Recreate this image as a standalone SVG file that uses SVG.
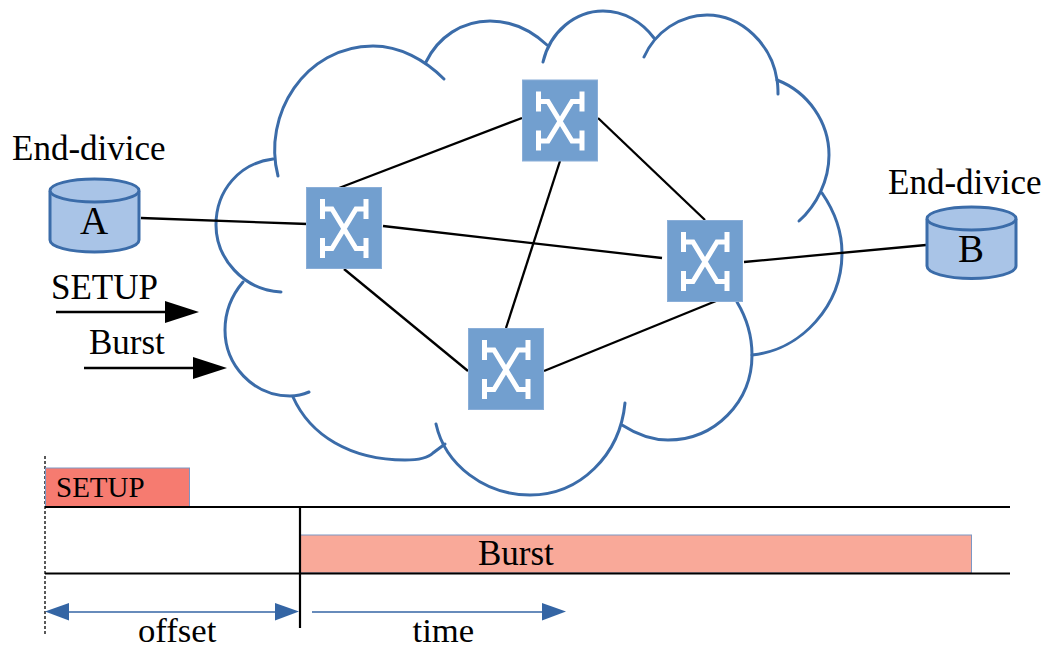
<svg xmlns="http://www.w3.org/2000/svg" xmlns:xlink="http://www.w3.org/1999/xlink" width="1050" height="648" viewBox="0 0 1050 648">
<style>
text{font-family:"Liberation Serif","Times New Roman",serif;fill:#000;font-size:35px}
.cloud{fill:none;stroke:#3b6ca9;stroke-width:3;stroke-linecap:round}
.link{fill:none;stroke:#000;stroke-width:2.3}
.sw{fill:#729fcf;stroke:#8aaed8;stroke-width:1}
.glyph{fill:none;stroke:#fff;stroke-width:5}
.cyl{fill:#a9c4e7;stroke:#3b6ca9;stroke-width:3}
.bl{fill:none;stroke:#3465a4;stroke-width:1.6}
.bh{fill:#3465a4}
</style>
<defs>
<g id="icon">
<rect class="sw" x="0.5" y="0.5" width="75" height="81"/>
<path class="glyph" d="M16.500 12V32M16.500 22H26L50 61.500H60M60 51V71M60 12V32M60 22H50L26 61.500H16.500M16.500 51V71"/>
</g>
</defs>
<rect width="1050" height="648" fill="#fff"/>
<g id="cloud">
<path class="cloud" d="M273 159C240 163 216 190 216 225C216 258 243 290 281 292"/>
<path class="cloud" d="M278 176C262 115 305 46 373 46C400 46 425 60 444 79"/>
<path class="cloud" d="M426 62C438 37 462 21 490 21C512 21 532 31 547 45"/>
<path class="cloud" d="M543 62C550 32 575 11 603 11C624 11 642 22 654 38"/>
<path class="cloud" d="M644 57C655 32 680 15 707 15C742 15 772 45 777 80C778 85 778 90 778 94"/>
<path class="cloud" d="M777 80C808 92 829 122 829 155C829 180 817 205 799 221"/>
<path class="cloud" d="M822 193C835 212 842 232 842 253C842 305 802 350 752 355"/>
<path class="cloud" d="M737 302C746 317 752 335 752 355C752 402 715 440 668 440C651 440 636 434 622 425"/>
<path class="cloud" d="M436 424C445 465 485 495 530 495C580 495 620 455 625 403"/>
<path class="cloud" d="M445 444L433 453C428 458 420 460 405 460C350 460 310 435 293 397"/>
<path class="cloud" d="M309 392C302 395 295 396 290 396C253 396 225 365 225 330C225 312 232 295 243 282"/>
</g>
<g id="connectors">
<path class="link" d="M141 218L308 224"/>
<path class="link" d="M339 188L522 118"/>
<path class="link" d="M383 226L662 258"/>
<path class="link" d="M344 269L468 371"/>
<path class="link" d="M560 161L506 328"/>
<path class="link" d="M598 118L705 220"/>
<path class="link" d="M544 371L716 301"/>
<path class="link" d="M744 262L926 245"/>
</g>
<g id="switch-1"><use xlink:href="#icon" href="#icon" x="306" y="187"/></g>
<g id="switch-2"><use xlink:href="#icon" href="#icon" x="522" y="79.500"/></g>
<g id="switch-3"><use xlink:href="#icon" href="#icon" x="468" y="328"/></g>
<g id="switch-4"><use xlink:href="#icon" href="#icon" x="667" y="220"/></g>
<g id="device-a">
<text x="12" y="160">End-divice</text>
<path class="cyl" d="M50 191V240C50 247 70 252 94.500 252S139 247 139 240V191"/>
<ellipse class="cyl" cx="94.500" cy="190.500" rx="44.500" ry="11.500"/>
<text x="94" y="234" text-anchor="middle" style="font-size:39px">A</text>
</g>
<g id="device-b">
<text x="888" y="194">End-divice</text>
<path class="cyl" d="M927 219V266C927 273 947 278.500 971.500 278.500S1016 273 1016 266V219"/>
<ellipse class="cyl" cx="971.500" cy="218.500" rx="44.500" ry="11.500"/>
<text x="971" y="262" text-anchor="middle" style="font-size:39px">B</text>
</g>
<g id="setup-arrow">
<text x="51" y="299">SETUP</text>
<path d="M56 312H166" stroke="#000" stroke-width="2.300"/>
<path d="M165 301L199 312L165 323Z"/>
</g>
<g id="burst-arrow">
<text x="89" y="354">Burst</text>
<path d="M84 368H194" stroke="#000" stroke-width="2.300"/>
<path d="M193 357L227 368L193 379Z"/>
</g>
<g id="timeline">
<path d="M45 456V634" stroke="#000" stroke-width="1.300" stroke-dasharray="3 2" fill="none"/>
<rect x="45.500" y="468" width="144" height="38.500" fill="#f67b70" stroke="#7c97c4" stroke-width="1"/>
<text x="56" y="497" style="font-size:29px">SETUP</text>
<rect x="300" y="535" width="671.500" height="38" fill="#f9a999" stroke="#7c97c4" stroke-width="1"/>
<text x="478" y="565">Burst</text>
<path d="M45 507H1010M45 573.500H1010M300 507V628" stroke="#000" stroke-width="2.200" fill="none"/>
<path class="bl" d="M60 612H285"/>
<path class="bh" d="M69 603V620.500L45 611.500Z"/>
<path class="bh" d="M275 603V620.500L299 611.500Z"/>
<path class="bl" d="M312 612H550"/>
<path class="bh" d="M542 603V620.500L566 611.500Z"/>
<text x="138" y="642" style="font-size:34.700px">offset</text>
<text x="412.500" y="642" style="font-size:34.700px">time</text>
</g>
</svg>
